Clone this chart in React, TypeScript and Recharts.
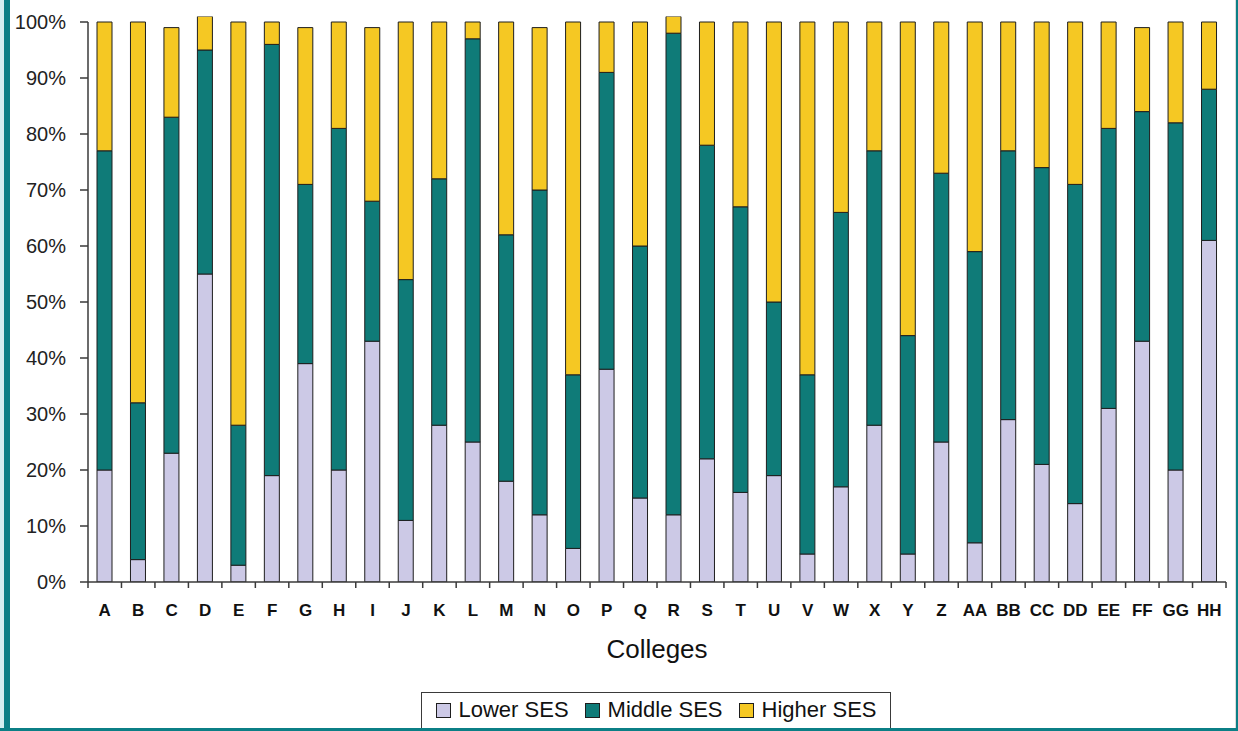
import { BarChart, Bar, XAxis, YAxis, ReferenceLine } from 'recharts';

const colleges = [
  'A', 'B', 'C', 'D', 'E', 'F', 'G', 'H', 'I', 'J', 'K', 'L', 'M', 'N', 'O', 'P', 'Q',
  'R', 'S', 'T', 'U', 'V', 'W', 'X', 'Y', 'Z', 'AA', 'BB', 'CC', 'DD', 'EE', 'FF', 'GG', 'HH',
];
const lowerSes = [20, 4, 23, 55, 3, 19, 39, 20, 43, 11, 28, 25, 18, 12, 6, 38, 15, 12, 22, 16, 19, 5, 17, 28, 5, 25, 7, 29, 21, 14, 31, 43, 20, 61];
const middleSes = [57, 28, 60, 40, 25, 77, 32, 61, 25, 43, 44, 72, 44, 58, 31, 53, 45, 86, 56, 51, 31, 32, 49, 49, 39, 48, 52, 48, 53, 57, 50, 41, 62, 27];
const higherSes = [23, 68, 16, 6, 72, 4, 28, 19, 31, 46, 28, 3, 38, 29, 63, 9, 40, 3, 22, 33, 50, 63, 34, 23, 56, 27, 41, 23, 26, 29, 19, 15, 18, 12];
const yTicks = [0, 10, 20, 30, 40, 50, 60, 70, 80, 90, 100];

const data = colleges.map((name, i) => ({
  name,
  lower: lowerSes[i],
  middle: middleSes[i],
  higher: higherSes[i],
}));

const W = 1238;
const H = 731;
const PLOT_LEFT = 88;
const PLOT_RIGHT = 1226;
const PLOT_BOTTOM = 582;
// domain runs to 101 so the two bars that add up past 100% are not cut off
const Y_MAX = 101;
const PLOT_TOP = 16.4;
const BAND = (PLOT_RIGHT - PLOT_LEFT) / colleges.length;

const FONT = '"Liberation Sans", Arial, sans-serif';
const LOWER = '#ccc9e6';
const MIDDLE = '#0f7b78';
const HIGHER = '#f5c823';
const EDGE = '#1e1e1e';
const AXIS = '#3a3a3a';

function CollegeTick(props: any) {
  const { x, y, payload, index } = props;
  const last = index === colleges.length - 1;
  return (
    <g>
      <line x1={x - BAND / 2} y1={y} x2={x - BAND / 2} y2={y + 6} stroke={AXIS} strokeWidth={1.5} />
      {last && <line x1={x + BAND / 2} y1={y} x2={x + BAND / 2} y2={y + 6} stroke={AXIS} strokeWidth={1.5} />}
      <text x={x} y={y + 34} textAnchor="middle" fontFamily={FONT} fontSize={17} fontWeight="bold" fill="#111">
        {payload.value}
      </text>
    </g>
  );
}

function LegendItem({ color, label }: { color: string; label: string }) {
  return (
    <div style={{ display: 'flex', alignItems: 'center', gap: '8px' }}>
      <div style={{ width: '13px', height: '13px', background: color, border: `1px solid ${EDGE}` }} />
      <span>{label}</span>
    </div>
  );
}

export default function App() {
  return (
    <div style={{ position: 'relative', width: W, height: H, background: '#fff', overflow: 'hidden' }}>
      <style>{`body{margin:0}`}</style>

      <div style={{ position: 'absolute', left: 0, top: 0, width: W, height: H }}>
        <BarChart
          width={W}
          height={H}
          data={data}
          barSize={15}
          margin={{ top: PLOT_TOP, right: W - PLOT_RIGHT, left: 0, bottom: H - PLOT_BOTTOM - 40 }}
        >
          <XAxis
            dataKey="name"
            height={40}
            tickSize={0}
            tickMargin={0}
            tickLine={false}
            axisLine={{ stroke: AXIS, strokeWidth: 1.5 }}
            interval={0}
            tick={<CollegeTick />}
          />
          <YAxis
            width={PLOT_LEFT}
            domain={[0, Y_MAX]}
            ticks={yTicks}
            allowDataOverflow
            tickSize={8}
            tickMargin={14}
            tickLine={{ stroke: AXIS, strokeWidth: 1.5 }}
            axisLine={false}
            tickFormatter={(v) => `${v}%`}
            tick={{ fontFamily: FONT, fontSize: 20, fill: '#222' }}
          />
          {/* y axis line stops at 100% */}
          <ReferenceLine
            segment={[{ x: 'A', y: 0 }, { x: 'A', y: 100 }]}
            position="start"
            stroke={AXIS}
            strokeWidth={1.5}
          />
          <Bar dataKey="lower" stackId="ses" fill={LOWER} stroke={EDGE} strokeWidth={1} isAnimationActive={false} />
          <Bar dataKey="middle" stackId="ses" fill={MIDDLE} stroke={EDGE} strokeWidth={1} isAnimationActive={false} />
          <Bar dataKey="higher" stackId="ses" fill={HIGHER} stroke={EDGE} strokeWidth={1} isAnimationActive={false} />
        </BarChart>
      </div>

      <div
        style={{
          position: 'absolute',
          left: PLOT_LEFT,
          width: PLOT_RIGHT - PLOT_LEFT,
          top: 634,
          textAlign: 'center',
          fontFamily: FONT,
          fontSize: '26px',
          color: '#111',
        }}
      >
        Colleges
      </div>

      <div
        style={{
          position: 'absolute',
          left: 421,
          top: 692,
          width: 470,
          height: 40,
          boxSizing: 'border-box',
          border: `1px solid ${AXIS}`,
          display: 'flex',
          alignItems: 'center',
          justifyContent: 'center',
          gap: '16px',
          paddingBottom: '10px',
          paddingTop: '6px',
          fontFamily: FONT,
          fontSize: '22px',
          color: '#111',
        }}
      >
        <LegendItem color={LOWER} label="Lower SES" />
        <LegendItem color={MIDDLE} label="Middle SES" />
        <LegendItem color={HIGHER} label="Higher SES" />
      </div>

      <div style={{ position: 'absolute', left: 0, top: 0, width: 4, height: H, background: '#d3eef1' }} />
      <div style={{ position: 'absolute', left: 4, top: 0, width: 6, height: H, background: '#0b7f86' }} />
      <div style={{ position: 'absolute', left: 0, top: H - 3, width: W, height: 3, background: '#0b7f86' }} />
      <div style={{ position: 'absolute', left: W - 2, top: 0, width: 2, height: H, background: '#0b7f86' }} />
      <div style={{ position: 'absolute', left: W - 3, top: 0, width: 1, height: H - 3, background: '#dcdcdc' }} />
    </div>
  );
}
